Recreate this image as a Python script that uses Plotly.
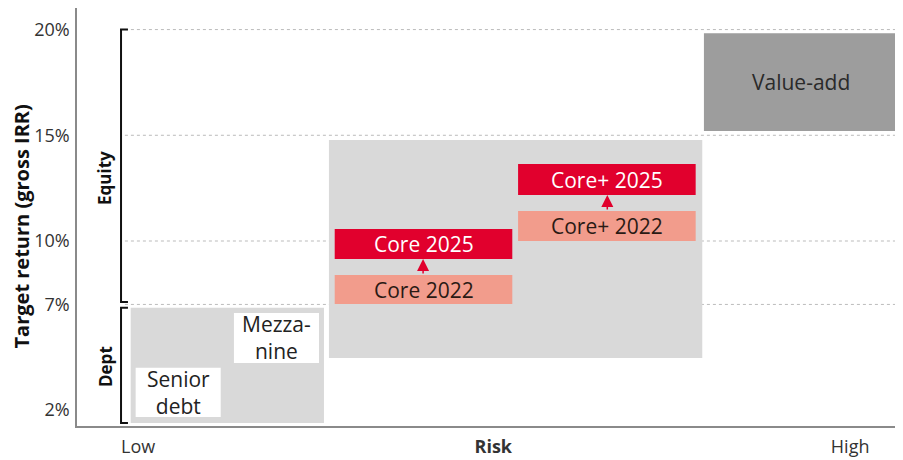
import plotly.graph_objects as go

# ---- data (risk scale 0-100, return in %) ----
box_names = ["Debt", "Senior debt", "Mezzanine", "Equity range", "Core 2022", "Core 2025",
             "Core+ 2022", "Core+ 2025", "Value-add"]
box_labels = ["", "Senior<br>debt", "Mezza-<br>nine", "", "Core 2022", "Core 2025",
              "Core+ 2022", "Core+ 2025", "Value-add"]
risk_lo = [6.5, 7.1, 19.0, 30.5, 31.2, 31.2, 53.4, 53.4, 75.9]
risk_hi = [29.9, 17.4, 29.3, 75.7, 52.7, 52.7, 74.9, 74.9, 99.3]
ret_lo = [1.39, 1.68, 4.23, 4.47, 7.02, 9.15, 10.0, 12.17, 15.2]
ret_hi = [6.84, 4.0, 6.6, 14.78, 8.39, 10.57, 11.42, 13.64, 19.83]
fill_colors = ["#D9D9D9", "#FFFFFF", "#FFFFFF", "#D9D9D9", "#F29C8C", "#E1002D",
               "#F29C8C", "#E1002D", "#9D9D9D"]
text_colors = ["#222", "#222", "#222", "#222", "#2A1A14", "#FFFFFF", "#2A1A14", "#FFFFFF", "#2A2A2A"]

arrow_x = [41.9, 64.2]
arrow_from = [8.39, 11.42]
arrow_to = [9.15, 12.17]

y_ticks = [2, 7, 10, 15, 20]
y_ticktext = ["2%", "7%", "10%", "15%", "20%"]
grid_vals = [7, 10, 15, 20]

x_ticks = [7.4, 50.4, 93.6]
x_ticktext = ["Low", "<b>Risk</b>", "High"]

bracket_names = ["Equity", "Dept"]
bracket_lo = [7.12, 1.39]
bracket_hi = [20.0, 6.84]
bracket_label_y = [12.98, 4.04]

FONT = "Open Sans"
Y_RANGE = [1.25, 21.02]

fig = go.Figure()
fig.add_trace(go.Scatter(x=[0, 100], y=Y_RANGE, mode="markers",
                         marker=dict(opacity=0), hoverinfo="skip", showlegend=False))

shapes = []
for g in grid_vals:
    shapes.append(dict(type="line", xref="x", yref="y", x0=5.8, x1=100, y0=g, y1=g,
                       line=dict(color="#BBBBBB", width=1, dash="dot"), layer="below"))
for i in range(len(box_names)):
    shapes.append(dict(type="rect", xref="x", yref="y", x0=risk_lo[i], x1=risk_hi[i],
                       y0=ret_lo[i], y1=ret_hi[i], fillcolor=fill_colors[i],
                       line=dict(width=0), layer="below"))
bx, btick = 5.33, 6.17
for i in range(len(bracket_names)):
    shapes.append(dict(type="path", xref="x", yref="y",
                       path=f"M {btick},{bracket_hi[i]} L {bx},{bracket_hi[i]} L {bx},{bracket_lo[i]} L {btick},{bracket_lo[i]}",
                       line=dict(color="#111111", width=2)))

annotations = []
for i in range(len(box_names)):
    if box_labels[i]:
        annotations.append(dict(x=(risk_lo[i] + risk_hi[i]) / 2, y=(ret_lo[i] + ret_hi[i]) / 2,
                                xref="x", yref="y", text=box_labels[i], showarrow=False,
                                font=dict(family=FONT, size=21, color=text_colors[i])))
for i in range(len(arrow_x)):
    annotations.append(dict(x=arrow_x[i], y=arrow_to[i], ax=arrow_x[i], ay=arrow_from[i],
                            xref="x", yref="y", axref="x", ayref="y", text="",
                            showarrow=True, arrowhead=2, arrowsize=1.6, arrowwidth=1.5,
                            arrowcolor="#E1002D"))
for i in range(len(bracket_names)):
    annotations.append(dict(x=3.39, y=bracket_label_y[i], xref="x", yref="y",
                            text=f"<b>{bracket_names[i]}</b>", textangle=-90, showarrow=False,
                            xanchor="center", yanchor="middle",
                            font=dict(family=FONT, size=17, color="#111")))
annotations.append(dict(x=-0.0672, y=10.71, xref="paper", yref="y",
                        text="<b>Target return (gross IRR)</b>", textangle=-90, showarrow=False,
                        xanchor="center", yanchor="middle", borderpad=0,
                        font=dict(family=FONT, size=20, color="#111")))

fig.update_layout(
    width=903, height=460,
    margin=dict(l=69, r=8, t=0, b=42),
    paper_bgcolor="white", plot_bgcolor="white",
    shapes=shapes, annotations=annotations,
    xaxis=dict(range=[0, 100], showgrid=False, zeroline=False, showline=True,
               linecolor="#8A8A8A", linewidth=1.5, tickvals=x_ticks, ticktext=x_ticktext,
               ticks="", ticklabelstandoff=4, tickfont=dict(family=FONT, size=18, color="#333")),
    yaxis=dict(range=Y_RANGE, showgrid=False, zeroline=False, showline=True,
               linecolor="#8A8A8A", linewidth=1.5, tickvals=y_ticks, ticktext=y_ticktext,
               ticks="", ticklabelstandoff=2, tickfont=dict(family=FONT, size=18, color="#333")),
    showlegend=False,
)

fig.write_html("out.html")
